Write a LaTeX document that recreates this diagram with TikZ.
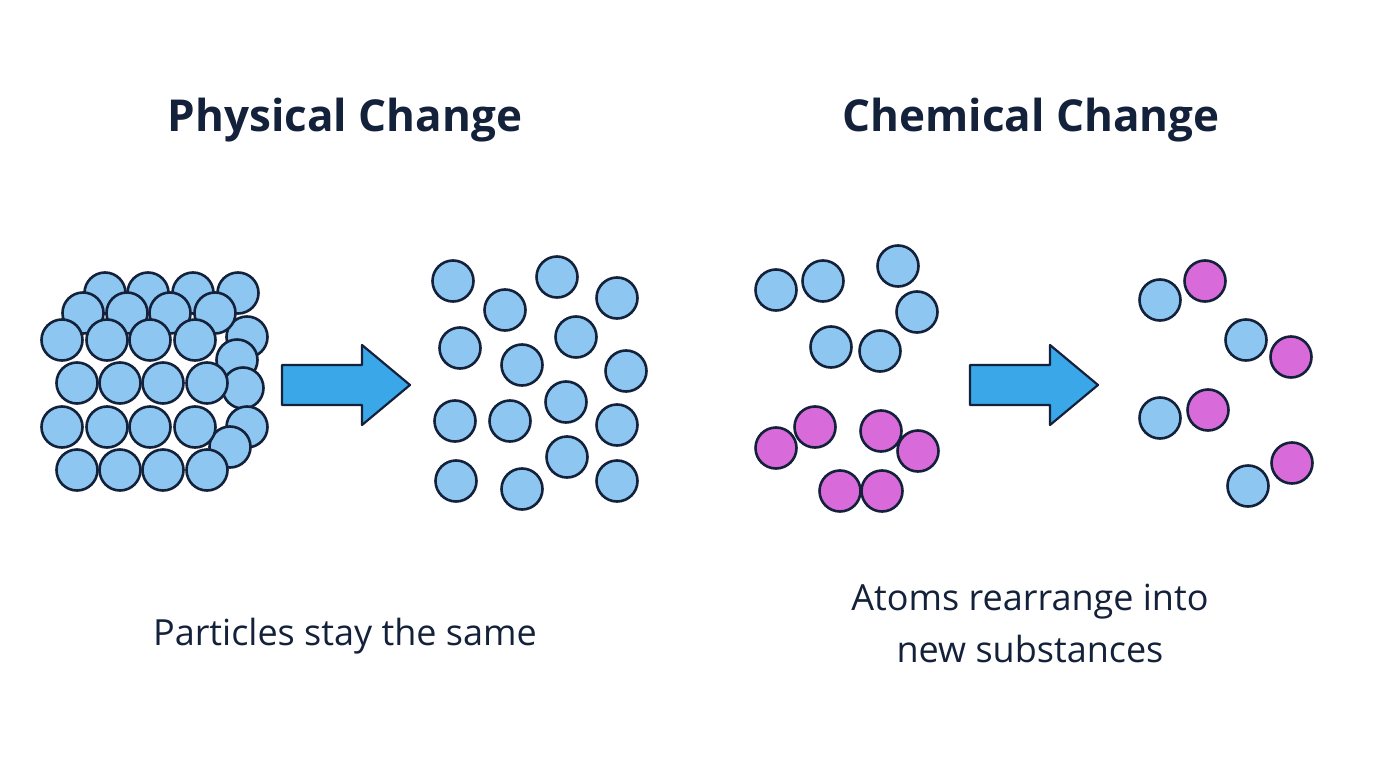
\documentclass[tikz,border=0pt]{standalone}
\usepackage{fontspec}
\setmainfont{Open Sans}
\definecolor{Ink}{HTML}{14213A}
\definecolor{Ball}{HTML}{8DC6F0}
\definecolor{Mag}{HTML}{D86AD9}
\definecolor{Flow}{HTML}{3AA8E8}
\usepackage{tikz}

\tikzset{
  atom/.style={circle,draw=Ink,line width=2.6pt,minimum size=41pt,inner sep=0pt},
  blue/.style={atom,fill=Ball},
  pink/.style={atom,fill=Mag},
  title/.style={font=\bfseries\fontsize{44}{50}\selectfont,text=Ink},
  caption/.style={font=\fontsize{36}{52}\selectfont,text=Ink,align=center},
  flow/.style={fill=Flow,draw=Ink,line width=2.2pt,line join=round}
}

\begin{document}
\begin{tikzpicture}[x=1pt,y=-1pt]
  \useasboundingbox[fill=white] (0,0) rectangle (1376,768);

  % Titles
  \node[title] (phys) at (345,120) {Physical Change};
  \node[title] (chem) at (1031,120) {Chemical Change};

  % Packed solid (back layers first)
  \foreach \x/\y [count=\i] in {105/293,148/293,193/293,238/293,
      247/337,237/360,243/388,247/427,230/447,
      83/313,127/313,170/313,215/313}
    \node[blue] (s\i) at (\x,\y) {};
  \foreach \x/\y [count=\i] in {62/340,107/340,150/340,195/340,
      77/383,120/383,163/383,207/383,
      62/427,107/427,150/427,195/427,
      77/470,120/470,163/470,207/470}
    \node[blue] (f\i) at (\x,\y) {};

  % Arrow (physical)
  \draw[flow] (282,365) -- (362,365) -- (362,345) -- (410,385)
    -- (362,425) -- (362,405) -- (282,405) -- cycle;

  % Spread out particles
  \foreach \x/\y [count=\i] in {453/281,557/277,617/298,505/310,576/337,
      460/348,522/365,626/371,566/402,455/421,510/421,617/425,
      567/457,456/481,522/489,617/481}
    \node[blue] (g\i) at (\x,\y) {};

  % Reactants
  \foreach \x/\y [count=\i] in {776/290,823/281,898/266,917/312,831/347,880/351}
    \node[blue] (r\i) at (\x,\y) {};
  \foreach \x/\y [count=\i] in {776/448,815/427,881/431,918/451,840/491,882/491}
    \node[pink] (q\i) at (\x,\y) {};

  % Arrow (chemical)
  \draw[flow] (970,365) -- (1050,365) -- (1050,345) -- (1098,385)
    -- (1050,425) -- (1050,405) -- (970,405) -- cycle;

  % Products
  \foreach \bx/\by/\mx/\my [count=\i] in {1160/300/1205/281,1246/340/1291/357,
      1160/418/1208/410,1248/486/1292/463}{
    \node[blue] (pb\i) at (\bx,\by) {};
    \node[pink] (pm\i) at (\mx,\my) {};
  }

  % Captions
  \node[caption] (capl) at (345,636) {Particles stay the same};
  \node[caption] (capr) at (1030,623) {Atoms rearrange into\\new substances};
\end{tikzpicture}
\end{document}
